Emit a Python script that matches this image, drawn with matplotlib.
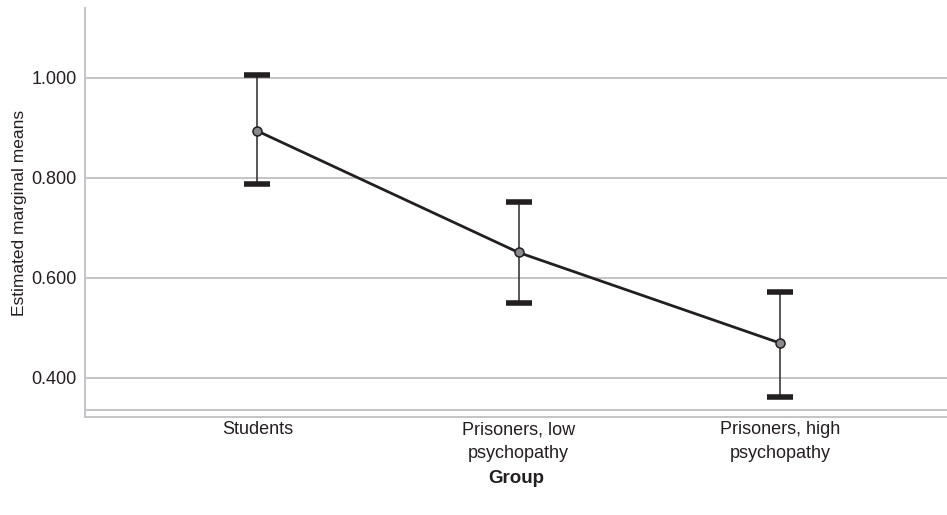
import matplotlib
matplotlib.use("Agg")
import matplotlib.pyplot as plt
from matplotlib import font_manager

# font: narrow sans like in the original, fall back if missing
names = {f.name for f in font_manager.fontManager.ttflist}
fam = "Liberation Sans Narrow" if "Liberation Sans Narrow" in names else "Liberation Sans"
plt.rcParams["font.family"] = [fam, "DejaVu Sans"]

groups = ["Students", "Prisoners, low\npsychopathy", "Prisoners, high\npsychopathy"]
means = [0.894, 0.651, 0.470]
upper = [1.006, 0.752, 0.572]
lower = [0.788, 0.550, 0.362]
yticks = [0.4, 0.6, 0.8, 1.0]

fig = plt.figure(figsize=(9.47, 5.15), dpi=100)
ax = fig.add_axes([85 / 947, 1 - 417 / 515, 862 / 947, 409 / 515])

x = list(range(len(groups)))
grid_c = "#c4c4c6"

for y in yticks:
    ax.axhline(y, color=grid_c, lw=1.4, zorder=0)
ax.axhline(0.336, color=grid_c, lw=1.4, zorder=0)

for xi, lo, hi in zip(x, lower, upper):
    ax.plot([xi, xi], [lo, hi], color="#3a3a3a", lw=1.2, zorder=2)
    ax.plot([xi - 0.05, xi + 0.05], [hi, hi], color="#231f20", lw=4, solid_capstyle="butt", zorder=2)
    ax.plot([xi - 0.05, xi + 0.05], [lo, lo], color="#231f20", lw=4, solid_capstyle="butt", zorder=2)

ax.plot(x, means, color="#231f20", lw=2, zorder=3)
ax.plot(x, means, "o", ms=6.5, mfc="#8a8a8c", mec="#231f20", mew=1.1, zorder=4)

ax.set_xlim(-0.66, 2.64)
ax.set_ylim(0.322, 1.140)
ax.set_yticks(yticks)
ax.set_yticklabels([f"{v:.3f}" for v in yticks], fontsize=13, color="#231f20")
ax.set_xticks(x)
ax.set_xticklabels(groups, fontsize=13, color="#231f20", linespacing=1.55)
ax.tick_params(axis="y", length=0, pad=6)
ax.tick_params(axis="x", length=0, pad=3)

for s in ["top", "right"]:
    ax.spines[s].set_visible(False)
ax.spines["left"].set_color(grid_c)
ax.spines["left"].set_linewidth(1.4)
ax.spines["bottom"].set_color(grid_c)
ax.spines["bottom"].set_linewidth(1.4)

ax.set_ylabel("Estimated marginal means", fontsize=12.5, color="#231f20")
ax.yaxis.set_label_coords(-58 / 862, 0.5)
ax.set_xlabel("Group", fontsize=13.5, fontweight="bold", color="#231f20")
ax.xaxis.set_label_coords(0.5, -53 / 409)

fig.savefig("out.png", dpi=100)
